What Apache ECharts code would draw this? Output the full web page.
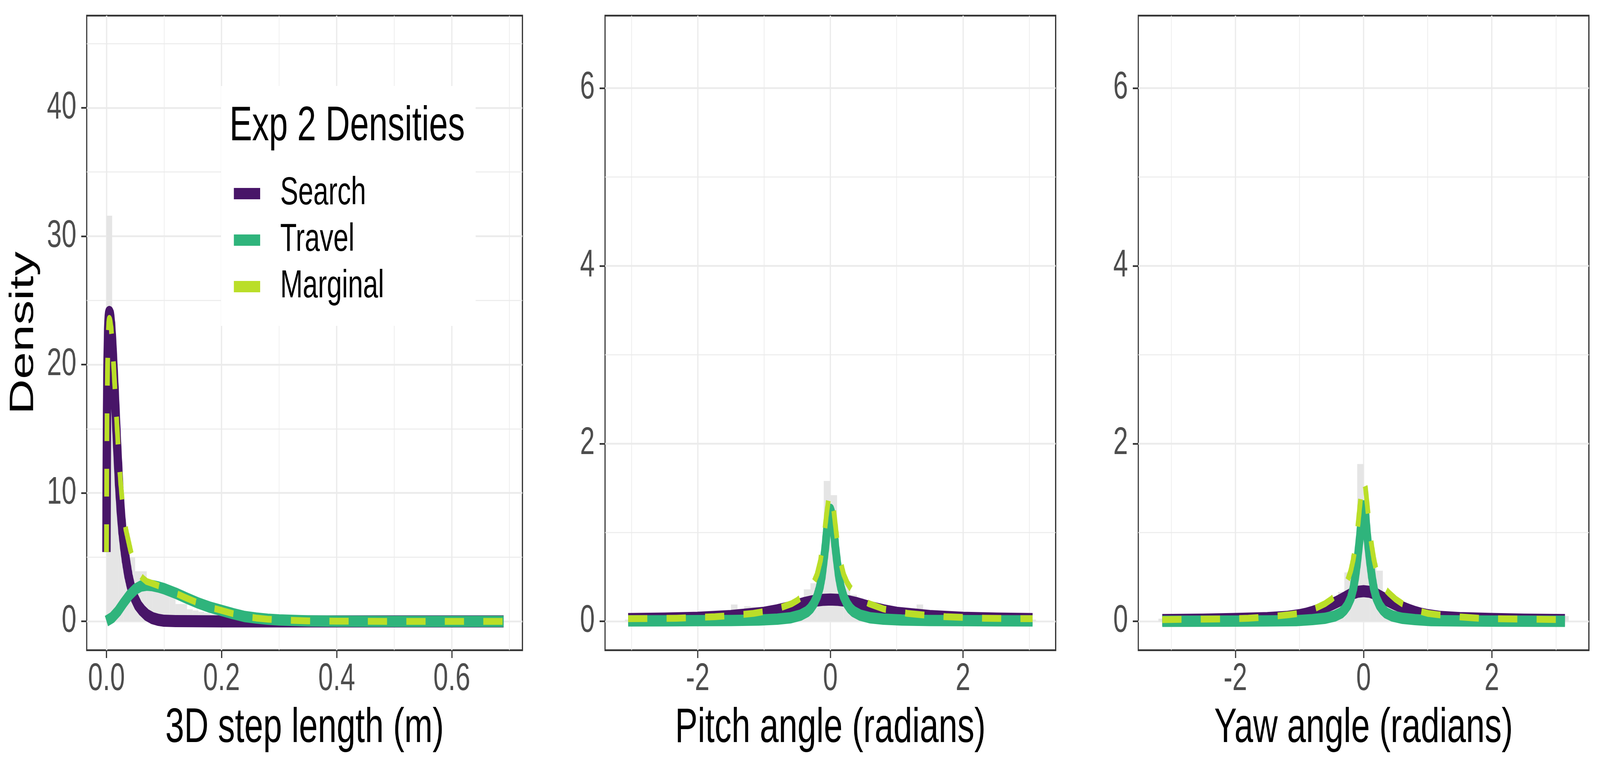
<!DOCTYPE html>
<html>
<head>
<meta charset="utf-8">
<script src="https://cdn.jsdelivr.net/npm/echarts@6/dist/echarts.min.js"></script>
<style>
html,body{margin:0;padding:0;background:#fff;overflow:hidden;width:100%;height:100%;}
#chart{position:absolute;left:0;top:0;width:5905px;height:1968px;transform-origin:0 0;}
</style>
</head>
<body>
<div id="chart"></div>
<script>
// ---------- tick labels ----------
const stepTicks = [0, 0.2, 0.4, 0.6];
const stepDensTicks = [0, 10, 20, 30, 40];
const angleTicks = [-2, 0, 2];
const angleDensTicks = [0, 2, 4, 6];

// ---------- panel 1: 3D step length ----------
const stepBinStart = 0, stepBinWidth = 0.01;
const stepHist = [31.6,17.5,8.0,5.2,5.0,3.9,3.9,3.1,2.7,2.4,
  2.2,2.1,1.35,1.35,0.94,0.85,0.75,0.65,0.55,0.5,
  0.4,0.35,0.3,0.25,0.2,0.18,0.15,0.12,0.1,0.08,
  0.07,0.06,0.05,0.05,0.04,0.04,0.03,0.03,0.03,0.02,
  0.02,0.02,0.01,0.02,0.01,0.01,0.01,0.01,0.01,0.0,
  0.01,0,0.01,0,0,0.01,0,0,0,0,
  0.01,0,0,0,0,0,0,0,0.01];

const searchStepX = [0,0.0005,0.001,0.002,0.003,0.004,0.005,0.006,0.008,0.010,0.012,0.014,0.016,0.018,0.020,0.022,0.025,0.028,0.031,0.034,0.038,0.042,0.047,0.055,0.062,0.070,0.080,0.090,0.100,0.120,0.150,0.200,0.300,0.690];
const searchStepY = [5.4,12.0,16.5,20.5,22.8,23.8,24.1,24.0,23.2,21.8,20.0,18.2,16.2,14.2,12.4,10.6,8.5,6.9,5.7,4.7,3.6,2.8,2.0,1.25,0.85,0.5,0.25,0.12,0.05,0.02,0.01,0,0,0];

const travelStepX = [0,0.01,0.02,0.03,0.04,0.05,0.06,0.07,0.08,0.09,0.10,0.12,0.14,0.16,0.18,0.20,0.22,0.24,0.26,0.28,0.30,0.35,0.40,0.50,0.69];
const travelStepY = [0.02,0.3,0.8,1.45,2.05,2.5,2.75,2.82,2.78,2.68,2.55,2.2,1.8,1.42,1.1,0.85,0.6,0.38,0.26,0.17,0.11,0.04,0.015,0,0];

const margStepX = [0,0.0005,0.001,0.002,0.003,0.004,0.005,0.006,0.008,0.010,0.012,0.014,0.016,0.018,0.020,0.022,0.025,0.028,0.031,0.034,0.038,0.042,0.047,0.055,0.062,0.070,0.080,0.090,0.100,0.120,0.140,0.160,0.180,0.200,0.220,0.240,0.260,0.280,0.300,0.350,0.400,0.500,0.690];
const margStepY = [5.4,11.8,16.2,20.1,22.3,23.3,23.6,23.5,22.9,21.8,20.3,18.7,17.0,15.5,13.9,12.4,10.6,9.1,8.0,7.1,6.3,5.5,4.6,3.8,3.4,3.1,2.95,2.78,2.6,2.2,1.8,1.42,1.1,0.85,0.6,0.4,0.26,0.17,0.11,0.04,0.015,0,0];

// ---------- panel 2: pitch angle ----------
const pitchBinStart = -3.1, pitchBinWidth = 0.1;
const pitchHist = [0.02,0.03,0.03,0.02,0.03,0.03,0.04,0.03,0.04,0.05,
  0.04,0.05,0.06,0.05,0.07,0.09,0.19,0.14,0.17,0.16,
  0.11,0.12,0.13,0.15,0.17,0.2,0.26,0.36,0.43,0.6,
  1.58,
  1.42,0.6,0.42,0.3,0.26,0.22,0.18,0.15,0.13,0.12,
  0.1,0.09,0.1,0.19,0.12,0.09,0.08,0.06,0.05,0.05,
  0.04,0.04,0.03,0.04,0.03,0.03,0.02,0.03,0.02,0.03,
  0.02];

const pitchSearchX = [-3.05,-2.5,-2.0,-1.5,-1.0,-0.8,-0.6,-0.4,-0.3,-0.2,-0.1,0,0.1,0.2,0.3,0.4,0.6,0.8,1.0,1.5,2.0,2.5,3.05];
const pitchSearchY = [0.026,0.032,0.04,0.06,0.097,0.125,0.16,0.205,0.222,0.235,0.243,0.246,0.243,0.235,0.222,0.205,0.16,0.125,0.097,0.06,0.04,0.032,0.026];

const pitchTravelX = [-3.05,-2.5,-2.0,-1.5,-1.08,-0.8,-0.6,-0.45,-0.35,-0.3,-0.25,-0.2,-0.16,-0.13,-0.1,-0.075,-0.05,-0.025,0,0.025,0.05,0.075,0.1,0.13,0.16,0.2,0.25,0.3,0.35,0.45,0.6,0.8,1.08,1.5,2.0,2.5,3.05];
const pitchTravelY = [0.005,0.006,0.008,0.01,0.015,0.025,0.04,0.07,0.11,0.145,0.2,0.28,0.38,0.5,0.68,0.84,1.04,1.2,1.26,1.2,1.04,0.84,0.68,0.5,0.38,0.28,0.2,0.145,0.11,0.07,0.04,0.025,0.015,0.01,0.008,0.006,0.005];

const pitchMargX = [-3.05,-2.7,-2.32,-2.0,-1.74,-1.5,-1.16,-1.0,-0.8,-0.58,-0.5,-0.4,-0.3,-0.25,-0.2,-0.15,-0.1,-0.055,-0.03,0,0.03,0.055,0.1,0.15,0.2,0.25,0.3,0.4,0.5,0.58,0.8,1.0,1.16,1.5,1.74,2.0,2.32,2.7,3.05];
const pitchMargY = [0.03,0.032,0.035,0.045,0.052,0.065,0.09,0.11,0.14,0.2,0.235,0.29,0.38,0.44,0.53,0.68,0.93,1.22,1.36,1.45,1.36,1.22,0.93,0.68,0.53,0.44,0.38,0.29,0.235,0.2,0.14,0.11,0.09,0.065,0.052,0.045,0.035,0.032,0.03];

// ---------- panel 3: yaw angle ----------
const yawBinStart = -3.2, yawBinWidth = 0.1;
const yawHist = [0.03,0.03,0.02,0.03,0.02,0.03,0.02,0.03,0.03,0.03,
  0.03,0.04,0.03,0.04,0.04,0.04,0.05,0.05,0.05,0.06,
  0.06,0.07,0.08,0.09,0.1,0.12,0.15,0.22,0.33,0.55,
  0.75,1.77,
  1.3,0.72,0.57,0.33,0.24,0.17,0.14,0.11,0.09,0.08,
  0.07,0.06,0.06,0.05,0.05,0.04,0.04,0.04,0.03,0.03,
  0.03,0.03,0.03,0.02,0.03,0.02,0.03,0.02,0.03,0.03,
  0.04,0.06];

const yawSearchX = [-3.14,-2.5,-2.0,-1.5,-1.2,-1.0,-0.9,-0.8,-0.7,-0.6,-0.5,-0.4,-0.3,-0.2,-0.1,0,0.1,0.2,0.3,0.4,0.5,0.6,0.7,0.8,0.9,1.0,1.2,1.5,2.0,2.5,3.14];
const yawSearchY = [0.015,0.02,0.027,0.037,0.05,0.07,0.085,0.105,0.13,0.16,0.19,0.225,0.265,0.305,0.332,0.34,0.332,0.305,0.265,0.225,0.19,0.16,0.13,0.105,0.085,0.07,0.05,0.037,0.027,0.02,0.015];

const yawTravelX = [-3.14,-2.5,-2.0,-1.5,-1.05,-0.8,-0.6,-0.45,-0.35,-0.3,-0.25,-0.2,-0.16,-0.13,-0.1,-0.08,-0.055,-0.025,0,0.025,0.055,0.08,0.1,0.13,0.16,0.2,0.25,0.3,0.35,0.45,0.6,0.8,1.05,1.5,2.0,2.5,3.14];
const yawTravelY = [0.001,0.002,0.003,0.005,0.008,0.02,0.035,0.06,0.095,0.13,0.18,0.26,0.37,0.5,0.67,0.8,0.97,1.22,1.3,1.22,0.97,0.8,0.67,0.5,0.37,0.26,0.18,0.13,0.095,0.06,0.035,0.02,0.008,0.005,0.003,0.002,0.001];

const yawMargX = [-3.14,-2.5,-2.0,-1.8,-1.5,-1.16,-1.0,-0.8,-0.6,-0.5,-0.4,-0.3,-0.25,-0.2,-0.16,-0.125,-0.1,-0.065,-0.03,0,0.03,0.065,0.1,0.125,0.16,0.2,0.25,0.3,0.4,0.5,0.6,0.8,1.0,1.16,1.5,1.8,2.0,2.5,3.14];
const yawMargY = [0.02,0.025,0.03,0.035,0.05,0.075,0.09,0.13,0.2,0.25,0.315,0.39,0.46,0.57,0.7,0.86,1.0,1.25,1.5,1.6,1.5,1.25,1.0,0.86,0.7,0.57,0.46,0.39,0.315,0.25,0.2,0.13,0.09,0.075,0.05,0.035,0.03,0.025,0.02];

// ---------- styling ----------
const FONT = "'Liberation Sans', Arial, Helvetica, sans-serif";
const C_SEARCH = '#481568', C_TRAVEL = '#2FB47C', C_MARG = '#BADE28';
const GRID_C = '#EBEBEB', AX_C = '#333333', TXT_C = '#4D4D4D';

function pairs(xs, ys) { return xs.map((x, i) => [x, ys[i]]); }
function bins(start, width, vals) { return vals.map((v, i) => [start + i * width, start + (i + 1) * width, v]); }

const grids = [
  {left: 320, top: 40, width: 1608, height: 1624},
  {left: 2233, top: 40, width: 1663, height: 1624},
  {left: 4201, top: 40, width: 1663, height: 1624}
].map(g => Object.assign(g, {show: true, borderColor: AX_C, borderWidth: 4.3, backgroundColor: '#fff'}));

function valueAxis(o) {
  return {
    type: 'value', gridIndex: o.grid, min: o.min, max: o.max,
    minInterval: o.step, maxInterval: o.step,
    axisLine: {show: false, onZero: false},
    axisTick: {show: true, length: 20, customValues: o.ticks, lineStyle: {color: AX_C, width: 4.3}},
    axisLabel: {show: true, customValues: o.ticks, formatter: o.fmt, fontSize: 98, color: TXT_C, fontFamily: FONT, margin: o.margin},
    splitLine: {show: true, lineStyle: {color: GRID_C, width: 4.5}},
    minorTick: {show: false, splitNumber: 2},
    minorSplitLine: {show: true, lineStyle: {color: GRID_C, width: 2.4}},
    name: o.name || '', nameLocation: 'middle', nameGap: o.nameGap || 0,
    nameRotate: o.nameRotate,
    nameTextStyle: {fontSize: 125, color: '#000', fontFamily: FONT},
    silent: true
  };
}

const xAxes = [
  valueAxis({grid: 0, min: -0.0343, max: 0.7227, step: 0.2, ticks: stepTicks, fmt: v => (+v).toFixed(1), margin: 26, name: '3D step length (m)', nameGap: 138}),
  valueAxis({grid: 1, min: -3.398, max: 3.398, step: 2, ticks: angleTicks, fmt: v => String(v), margin: 26, name: 'Pitch angle (radians)', nameGap: 138}),
  valueAxis({grid: 2, min: -3.514, max: 3.514, step: 2, ticks: angleTicks, fmt: v => String(v), margin: 26, name: 'Yaw angle (radians)', nameGap: 138})
];
const yAxes = [
  valueAxis({grid: 0, min: -2.246, max: 47.18, step: 10, ticks: stepDensTicks, fmt: v => String(v), margin: 38, name: 'Density', nameGap: 170, nameRotate: 90}),
  valueAxis({grid: 1, min: -0.3245, max: 6.815, step: 2, ticks: angleDensTicks, fmt: v => String(v), margin: 38}),
  valueAxis({grid: 2, min: -0.3245, max: 6.815, step: 2, ticks: angleDensTicks, fmt: v => String(v), margin: 38})
];

function histSeries(idx, data) {
  return {
    type: 'custom', xAxisIndex: idx, yAxisIndex: idx, z: 2, silent: true, clip: true,
    encode: {x: [0, 1], y: 2},
    data: data,
    renderItem: function (params, api) {
      const p0 = api.coord([api.value(0), api.value(2)]);
      const p1 = api.coord([api.value(1), 0]);
      return {type: 'rect', shape: {x: p0[0], y: p0[1], width: p1[0] - p0[0], height: p1[1] - p0[1]},
              style: {fill: '#E5E5E5'}};
    }
  };
}
function lineSeries(idx, name, data, color, width, z, dashed) {
  return {
    type: 'line', name: name, xAxisIndex: idx, yAxisIndex: idx, z: z, data: data,
    showSymbol: false, symbol: 'none', silent: true, smooth: false,
    itemStyle: {color: color},
    lineStyle: {color: color, width: width, cap: 'butt', join: 'round', type: dashed ? [71, 71] : 'solid'},
    emphasis: {disabled: true}
  };
}

const series = [
  histSeries(0, bins(stepBinStart, stepBinWidth, stepHist)),
  lineSeries(0, 'Search', pairs(searchStepX, searchStepY), C_SEARCH, 31, 3, false),
  lineSeries(0, 'Travel', pairs(travelStepX, travelStepY), C_TRAVEL, 29, 4, false),
  lineSeries(0, 'Marginal', pairs(margStepX, margStepY), C_MARG, 17.5, 5, true),
  histSeries(1, bins(pitchBinStart, pitchBinWidth, pitchHist)),
  lineSeries(1, 'Search', pairs(pitchSearchX, pitchSearchY), C_SEARCH, 31, 3, false),
  lineSeries(1, 'Travel', pairs(pitchTravelX, pitchTravelY), C_TRAVEL, 29, 4, false),
  lineSeries(1, 'Marginal', pairs(pitchMargX, pitchMargY), C_MARG, 17.5, 5, true),
  histSeries(2, bins(yawBinStart, yawBinWidth, yawHist)),
  lineSeries(2, 'Search', pairs(yawSearchX, yawSearchY), C_SEARCH, 31, 3, false),
  lineSeries(2, 'Travel', pairs(yawTravelX, yawTravelY), C_TRAVEL, 29, 4, false),
  lineSeries(2, 'Marginal', pairs(yawMargX, yawMargY), C_MARG, 17.5, 5, true)
];

// The chart is laid out on the full 5905 x 1968 design canvas; if the viewport is
// smaller, the whole drawing is scaled to fill it.
const el = document.getElementById('chart');
const sx = (window.innerWidth || 5905) / 5905, sy = (window.innerHeight || 1968) / 1968;
if (Math.abs(sx - 1) > 1e-3 || Math.abs(sy - 1) > 1e-3) {
  el.style.transform = 'scale(' + sx + ',' + sy + ')';
}
const chart = echarts.init(el, null, {renderer: 'canvas', width: 5905, height: 1968});
chart.setOption({
  animation: false,
  backgroundColor: '#fff',
  title: [{text: 'Exp 2 Densities', left: 847, top: 262, padding: 0,
           textStyle: {fontSize: 125, fontWeight: 'normal', color: '#000', fontFamily: FONT, lineHeight: 125}}],
  legend: {
    left: 816, top: 220, orient: 'vertical',
    padding: [216, 338, 41, 47], backgroundColor: '#fff',
    itemWidth: 97, itemHeight: 29, itemGap: 0, icon: 'rect', selectedMode: false,
    data: [
      {name: 'Search', itemStyle: {color: C_SEARCH}},
      {name: 'Travel', itemStyle: {color: C_TRAVEL}},
      {name: 'Marginal', itemStyle: {color: C_MARG}}
    ],
    textStyle: {fontSize: 100, color: '#000', fontFamily: FONT, lineHeight: 119, padding: [0, 0, 0, 69]}
  },
  grid: grids,
  xAxis: xAxes,
  yAxis: yAxes,
  series: series
});
</script>
</body>
</html>
